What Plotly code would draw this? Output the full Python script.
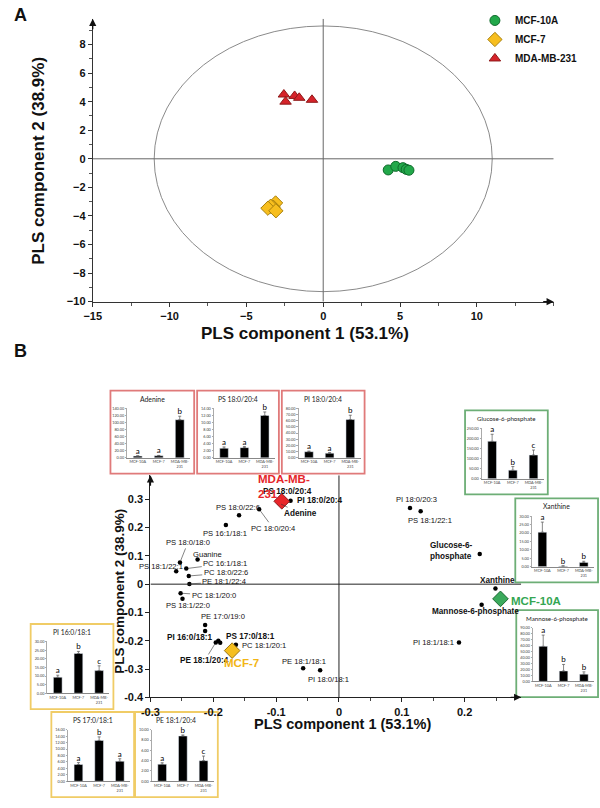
import plotly.graph_objects as go

W, H = 600, 808
FONT = "Liberation Sans"
INSET_FONT = "Lato"

def px(x):
    return x / W

def py(y):
    return 1 - y / H

# ---------------- Panel A: PLS scores ----------------
mcf10a_x = [4.23, 4.72, 5.19, 5.40, 5.58]
mcf10a_y = [-0.78, -0.53, -0.62, -0.74, -0.80]
mcf7_x = [-3.10, -3.25, -3.42, -3.60, -3.08]
mcf7_y = [-3.09, -3.39, -3.32, -3.46, -3.64]
mda_x = [-2.56, -2.45, -1.86, -1.56, -0.73]
mda_y = [4.50, 4.00, 4.40, 4.27, 4.13]
a_xticks = [-15, -10, -5, 0, 5, 10]
a_yticks = [-10, -8, -6, -4, -2, 0, 2, 4, 6, 8]
ellipse_rx = 11.0
ellipse_ry = 9.3

# ---------------- Panel B: PLS loadings ----------------
load_names = ["PS 18:0/20:4", "PI 18:0/20:4", "Adenine", "PS 18:0/22:6", "PC 18:0/20:4",
              "PS 16:1/18:1", "PS 18:0/18:0", "Guanine", "PS 18:1/22:1", "PC 16:1/18:1",
              "PC 18:0/22:6", "PE 18:1/22:4", "PC 18:1/20:0", "PS 18:1/22:0", "PE 17:0/19:0",
              "", "PI 16:0/18:1", "PE 18:1/20:4", "PS 17:0/18:1", "PC 18:1/20:1",
              "PI 18:0/20:3", "PS 18:1/22:1", "Glucose-6-phosphate", "Xanthine",
              "Mannose-6-phosphate", "PI 18:1/18:1", "PE 18:1/18:1", "PI 18:0/18:1"]
load_x = [-0.088, -0.077, -0.095, -0.159, -0.127,
          -0.180, -0.253, -0.225, -0.259, -0.243,
          -0.239, -0.238, -0.252, -0.249, -0.213,
          -0.213, -0.192, -0.196, -0.189, -0.164,
          0.113, 0.130, 0.224, 0.249,
          0.227, 0.191, -0.057, -0.030]
load_y = [0.300, 0.295, 0.286, 0.244, 0.265,
          0.209, 0.077, 0.087, 0.046, 0.055,
          0.029, 0.001, -0.032, -0.052, -0.144,
          -0.166, -0.200, -0.206, -0.207, -0.214,
          0.269, 0.258, 0.107, -0.015,
          -0.073, -0.206, -0.297, -0.304]
centroid_names = ["MDA-MB-231", "MCF-7", "MCF-10A"]
centroid_x = [-0.091, -0.170, 0.257]
centroid_y = [0.293, -0.235, -0.052]
b_xticks = [-0.3, -0.2, -0.1, 0, 0.1, 0.2]
b_xticklabels = ["-0.3", "-0.2", "-0.1", "0", "0.1", "0.2"]
b_yticks = [-0.4, -0.3, -0.2, -0.1, 0, 0.1, 0.2, 0.3]
b_yticklabels = ["-0.4", "-0.3", "-0.2", "-0.1", "0", "0.1", "0.2", "0.3"]

# ---------------- Inset bar charts ----------------
cell_lines = ["MCF-10A", "MCF-7", "MDA-MB-<br>231"]
adenine_mean = [5.0, 6.0, 108.0]
adenine_sd = [1.0, 1.0, 10.0]
adenine_grp = ["a", "a", "b"]
ps180204_mean = [2.7, 2.9, 12.0]
ps180204_sd = [0.4, 0.3, 1.0]
ps180204_grp = ["a", "a", "b"]
pi180204_mean = [10.0, 7.5, 62.0]
pi180204_sd = [1.0, 1.0, 7.0]
pi180204_grp = ["a", "a", "b"]
g6p_mean = [185.0, 42.0, 117.0]
g6p_sd = [35.0, 18.0, 25.0]
g6p_grp = ["a", "b", "c"]
xanthine_mean = [20.5, 0.3, 2.5]
xanthine_sd = [6.0, 0.2, 0.7]
xanthine_grp = ["a", "b", "b"]
m6p_mean = [59.0, 17.5, 12.0]
m6p_sd = [19.0, 11.0, 4.0]
m6p_grp = ["a", "b", "b"]
pi160181_mean = [9.3, 23.2, 13.2]
pi160181_sd = [1.2, 1.2, 2.8]
pi160181_grp = ["a", "b", "c"]
ps170181_mean = [5.2, 12.7, 6.2]
ps170181_sd = [0.6, 1.1, 0.8]
ps170181_grp = ["a", "b", "a"]
pe181204_mean = [3.3, 8.8, 4.0]
pe181204_sd = [0.3, 0.2, 0.9]
pe181204_grp = ["a", "b", "c"]

RED_BOX = "#E07A7A"
GREEN_BOX = "#6DAE76"
GOLD_BOX = "#F0CC66"

# title, mean, sd, groups, ymax, dtick, box (left, top, right, bottom px), colour
insets = [
    ("Adenine", adenine_mean, adenine_sd, adenine_grp, 140, 20, (103, 392, 188, 476), RED_BOX),
    ("PS 18:0/20:4", ps180204_mean, ps180204_sd, ps180204_grp, 14, 2, (191, 392, 274, 476), RED_BOX),
    ("PI 18:0/20:4", pi180204_mean, pi180204_sd, pi180204_grp, 80, 10, (277, 392, 361, 476), RED_BOX),
    ("Glucose-6-phosphate", g6p_mean, g6p_sd, g6p_grp, 250, 50, (463, 412, 547, 497), GREEN_BOX),
    ("Xanthine", xanthine_mean, xanthine_sd, xanthine_grp, 30, 5, (514, 501, 598, 586), GREEN_BOX),
    ("Mannose-6-phosphate", m6p_mean, m6p_sd, m6p_grp, 90, 10, (515, 614, 598, 702), GREEN_BOX),
    ("PI 16:0/18:1", pi160181_mean, pi160181_sd, pi160181_grp, 30, 5, (22, 628, 106, 714), GOLD_BOX),
    ("PS 17:0/18:1", ps170181_mean, ps170181_sd, ps170181_grp, 16, 2, (43, 717, 127, 803), GOLD_BOX),
    ("PE 18:1/20:4", pe181204_mean, pe181204_sd, pe181204_grp, 10, 2, (128, 717, 212, 803), GOLD_BOX),
]

# label placement for loadings: (mode, dx, dy, xanchor, bold, override text)
label_style = [
    ("s", 4, 8, "center", True, None),
    ("s", 4, 0, "left", True, None),
    ("a", 21, 10, "center", True, None),
    ("s", -1, 8, "center", False, None),
    ("a", 14, 19, "center", False, None),
    ("s", -1, -8, "center", False, None),
    ("a", 8, -20, "center", False, None),
    ("s", 10, 5, "center", False, None),
    ("s", -15, 5, "center", False, None),
    ("a", 39, -5, "center", False, None),
    ("a", 37, -3, "center", False, None),
    ("a", 35, -2, "center", False, None),
    ("a", 33, 2, "center", False, None),
    ("s", 6, -7, "center", False, None),
    ("s", 18, 8, "center", False, None),
    None,
    ("s", -3, 3, "right", True, None),
    ("a", -11, 18, "center", True, None),
    ("s", 4, 6, "left", True, None),
    ("s", 4, -1, "left", False, None),
    ("s", 7, 9, "center", False, None),
    ("s", 9, -9, "center", False, None),
    ("s", -5, 3, "right", True, "Glucose-6-<br>phosphate"),
    ("s", 2, 8, "center", True, None),
    ("s", -6, -7, "center", True, None),
    ("s", -3, 0, "right", False, None),
    ("s", 1, 7, "center", False, None),
    ("s", 8, -9, "center", False, None),
]

fig = go.Figure()

# ---- Panel A traces ----
fig.add_trace(go.Scatter(x=mcf10a_x, y=mcf10a_y, mode="markers", name="MCF-10A",
                         marker=dict(symbol="circle", size=10, color="#22A84A",
                                     line=dict(color="#0F6A2B", width=1)),
                         xaxis="x", yaxis="y"))
fig.add_trace(go.Scatter(x=mcf7_x, y=mcf7_y, mode="markers", name="MCF-7",
                         marker=dict(symbol="diamond", size=11, color="#F7BE1E",
                                     line=dict(color="#A8800C", width=1)),
                         xaxis="x", yaxis="y"))
fig.add_trace(go.Scatter(x=mda_x, y=mda_y, mode="markers", name="MDA-MB-231",
                         marker=dict(symbol="triangle-up", size=10, color="#D6232A",
                                     line=dict(color="#8E1A1A", width=1)),
                         xaxis="x", yaxis="y"))

# ---- Panel B traces ----
fig.add_trace(go.Scatter(x=load_x, y=load_y, mode="markers", showlegend=False,
                         marker=dict(size=4.5, color="black"), xaxis="x2", yaxis="y2"))
centroid_colors = ["#E8262A", "#F5BE1E", "#3BAA5C"]
centroid_edges = ["#8B1A1A", "#9A7410", "#1E6B35"]
fig.add_trace(go.Scatter(x=centroid_x, y=centroid_y, mode="markers", showlegend=False,
                         marker=dict(symbol="diamond", size=12, color=centroid_colors,
                                     line=dict(color=centroid_edges, width=1)),
                         xaxis="x2", yaxis="y2"))

annotations = []
shapes = []

for name, x, y, st in zip(load_names, load_x, load_y, label_style):
    if st is None or not name:
        continue
    mode, dx, dy, anchor, bold, override = st
    txt = override if override else name
    font = dict(family=FONT, size=8.2 if bold else 7.6, color="#111",
                weight="bold" if bold else "normal")
    if mode == "s":
        annotations.append(dict(x=x, y=y, xref="x2", yref="y2", text=txt, showarrow=False,
                                xshift=dx, yshift=dy, xanchor=anchor, yanchor="middle",
                                align="left", font=font))
    else:
        annotations.append(dict(x=x, y=y, xref="x2", yref="y2", text=txt, showarrow=True,
                                ax=dx, ay=dy, arrowhead=0, arrowwidth=0.6, arrowcolor="#333",
                                standoff=2, font=font))

# centroid labels
centroid_label_text = ["MDA-MB-<br>231", "MCF-7", "MCF-10A"]
centroid_label_pos = [(-26, 15, "left"), (9, -12, "center"), (9, -2, "left")]
centroid_label_col = ["#E5252A", "#F2B515", "#35A653"]
for x, y, t, (dx, dy, anc), c in zip(centroid_x, centroid_y, centroid_label_text,
                                     centroid_label_pos, centroid_label_col):
    annotations.append(dict(x=x, y=y, xref="x2", yref="y2", text=t, showarrow=False,
                            xshift=dx, yshift=dy, xanchor=anc, yanchor="middle", align="left",
                            font=dict(family=FONT, size=11.5, color=c, weight="bold")))

# ---- Insets ----
layout_axes = {}
for i, (title, mean, sd, grp, ymax, dtk, box, col) in enumerate(insets):
    k = i + 3
    l, t, r, b = box
    shapes.append(dict(type="rect", xref="paper", yref="paper", x0=px(l), x1=px(r),
                       y0=py(b), y1=py(t), line=dict(color=col, width=1.8),
                       fillcolor="white", layer="below"))
    layout_axes[f"xaxis{k}"] = dict(domain=[px(l + 17), px(r - 4)], anchor=f"y{k}",
                                    showline=True, linecolor="#888", linewidth=0.7,
                                    ticks="", showgrid=False, zeroline=False, tickangle=0,
                                    tickfont=dict(family=INSET_FONT, size=3.8, color="#444"),
                                    fixedrange=True)
    layout_axes[f"yaxis{k}"] = dict(domain=[py(b - 16), py(t + 18)], anchor=f"x{k}",
                                    range=[0, ymax], dtick=dtk, tick0=0, tickformat=".2f",
                                    showline=True, linecolor="#aaa", linewidth=0.6,
                                    ticks="outside", ticklen=1.5, tickcolor="#aaa",
                                    showgrid=False, zeroline=False,
                                    tickfont=dict(family=INSET_FONT, size=3.8, color="#444"),
                                    fixedrange=True)
    fig.add_trace(go.Bar(x=cell_lines, y=mean, width=0.42, marker_color="black",
                         showlegend=False, xaxis=f"x{k}", yaxis=f"y{k}",
                         error_y=dict(type="data", array=sd, arrayminus=[0, 0, 0],
                                      symmetric=False, color="#555", thickness=0.7, width=1.5)))
    fig.add_trace(go.Scatter(x=cell_lines, y=[m + s for m, s in zip(mean, sd)], mode="text",
                             text=grp, textposition="top center", cliponaxis=False,
                             showlegend=False, xaxis=f"x{k}", yaxis=f"y{k}",
                             textfont=dict(family=INSET_FONT, size=8, color="black")))
    annotations.append(dict(x=px((l + r) / 2), y=py(t + 8), xref="paper", yref="paper",
                            text=title, showarrow=False, xanchor="center", yanchor="middle",
                            font=dict(family=INSET_FONT, size=6.8 if len(title) < 14 else 6.2,
                                      color="#222")))

# ---- Panel A decorations ----
shapes.append(dict(type="circle", xref="x", yref="y", x0=-ellipse_rx, x1=ellipse_rx,
                   y0=-ellipse_ry, y1=ellipse_ry, line=dict(color="#8a8a8a", width=1)))
shapes.append(dict(type="line", xref="x", yref="y", x0=0, x1=0, y0=-10, y1=9.8,
                   line=dict(color="#666", width=1)))
shapes.append(dict(type="line", xref="x", yref="y", x0=-15, x1=15, y0=0, y1=0,
                   line=dict(color="#666", width=1)))
# ---- Panel B decorations ----
shapes.append(dict(type="line", xref="x2", yref="y2", x0=0, x1=0, y0=-0.4, y1=0.385,
                   line=dict(color="#222", width=1)))
shapes.append(dict(type="line", xref="x2", yref="y2", x0=-0.3, x1=0.29, y0=0, y1=0,
                   line=dict(color="#222", width=1)))

# axis arrows
for xr, yr, x, y, ax, ay in [("x", "y", 15, -10, -12, 0), ("x", "y", -15, 9.8, 0, 12),
                             ("x2", "y2", 0.29, -0.4, -12, 0), ("x2", "y2", -0.3, 0.385, 0, 12)]:
    annotations.append(dict(x=x, y=y, xref=xr, yref=yr, text="", showarrow=True, ax=ax, ay=ay,
                            arrowhead=2, arrowsize=1.1, arrowwidth=1.3, arrowcolor="#111",
                            standoff=0))

# titles and panel letters
title_font = dict(family=FONT, color="#111", weight="bold")
annotations += [
    dict(x=px(3), y=py(12), xref="paper", yref="paper", text="A", showarrow=False,
         xanchor="left", yanchor="middle", font=dict(size=18, **title_font)),
    dict(x=px(3), y=py(352), xref="paper", yref="paper", text="B", showarrow=False,
         xanchor="left", yanchor="middle", font=dict(size=18, **title_font)),
    dict(x=px(300), y=py(334), xref="paper", yref="paper", text="PLS component 1 (53.1%)",
         showarrow=False, xanchor="center", yanchor="middle", font=dict(size=17, **title_font)),
    dict(x=px(30), y=py(160), xref="paper", yref="paper", text="PLS component 2 (38.9%)",
         showarrow=False, textangle=-90, xanchor="center", yanchor="middle",
         font=dict(size=17, **title_font)),
    dict(x=px(339), y=py(729), xref="paper", yref="paper", text="PLS component 1 (53.1%)",
         showarrow=False, xanchor="center", yanchor="middle", font=dict(size=14.5, **title_font)),
    dict(x=px(112), y=py(595), xref="paper", yref="paper", text="PLS component 2 (38.9%)",
         showarrow=False, textangle=-90, xanchor="center", yanchor="middle",
         font=dict(size=13.5, **title_font)),
]

tickfont_main = dict(family=FONT, size=11, color="#111", weight="bold")
fig.update_layout(
    width=W, height=H, margin=dict(l=0, r=0, t=0, b=0),
    paper_bgcolor="white", plot_bgcolor="rgba(0,0,0,0)",
    font=dict(family=FONT),
    showlegend=True,
    legend=dict(x=px(473), y=py(3), xanchor="left", yanchor="top", bgcolor="rgba(0,0,0,0)",
                font=dict(family=FONT, size=10, color="#111", weight="bold"),
                itemwidth=30, tracegroupgap=0),
    xaxis=dict(domain=[px(85), px(553)], range=[-15, 15], anchor="y", tickvals=a_xticks,
               showline=True, linecolor="#333", linewidth=1, ticks="outside", ticklen=4,
               tickcolor="#333", showgrid=False, zeroline=False, tickfont=tickfont_main,
               minor=dict(ticks="outside", dtick=2.5, ticklen=3, tickcolor="#555"),
               fixedrange=True),
    yaxis=dict(domain=[py(302), py(16)], range=[-10, 9.8], anchor="x", tickvals=a_yticks,
               showline=True, linecolor="#333", linewidth=1, ticks="outside", ticklen=4,
               tickcolor="#333", showgrid=False, zeroline=False, tickfont=tickfont_main,
               minor=dict(ticks="outside", dtick=1, ticklen=2.5, tickcolor="#555"),
               fixedrange=True),
    xaxis2=dict(domain=[px(143.6), px(520)], range=[-0.3, 0.29], anchor="y2",
                tickvals=b_xticks, ticktext=b_xticklabels,
                showline=True, linecolor="#222", linewidth=1.2, ticks="outside", ticklen=4,
                tickcolor="#222", showgrid=False, zeroline=False, tickfont=tickfont_main,
                minor=dict(ticks="outside", dtick=0.05, ticklen=2.5, tickcolor="#444"),
                fixedrange=True),
    yaxis2=dict(domain=[py(702.1), py(477.6)], range=[-0.4, 0.385], anchor="x2",
                tickvals=b_yticks, ticktext=b_yticklabels,
                showline=True, linecolor="#222", linewidth=1.2, ticks="outside", ticklen=4,
                tickcolor="#222", showgrid=False, zeroline=False, tickfont=tickfont_main,
                fixedrange=True),
    annotations=annotations,
    shapes=shapes,
    bargap=0.5,
)
fig.update_layout(**layout_axes)

fig.write_html("out.html", config={"displayModeBar": False},
               post_script="document.body.style.margin='0px';document.body.style.padding='0px';")
